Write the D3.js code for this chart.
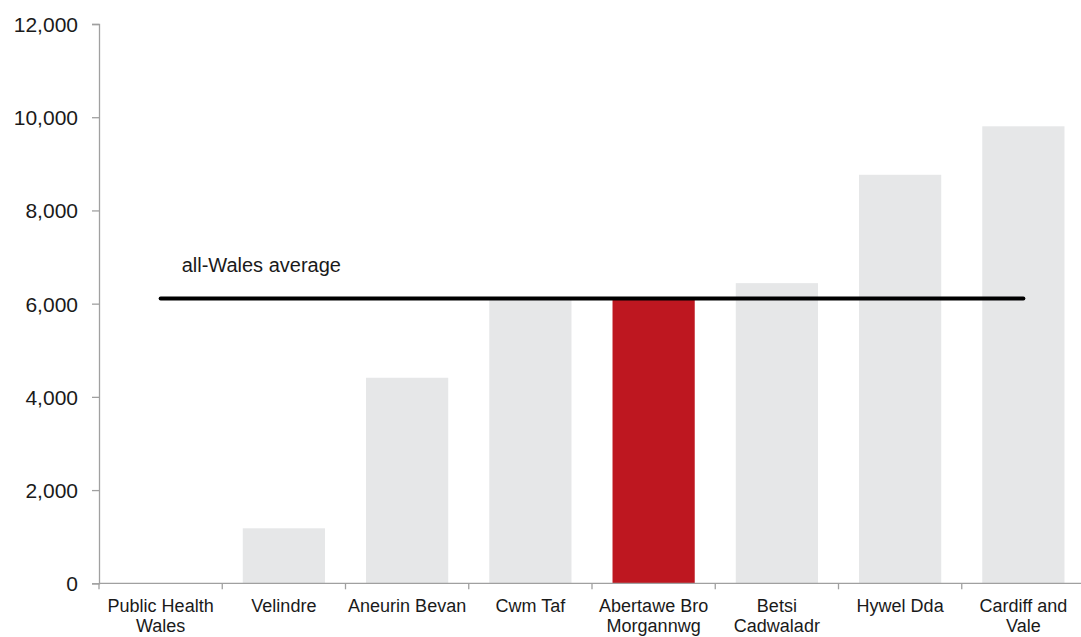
<!DOCTYPE html>
<html><head><meta charset="utf-8">
<script src="https://cdn.jsdelivr.net/npm/d3@7"></script>
<style>
body{margin:0;background:#fff;}
svg{display:block;font-family:"Liberation Sans",Arial,sans-serif;}
</style></head>
<body>
<svg id="chart" width="1081" height="637"></svg>
<script>
const categories = [["Public Health","Wales"],["Velindre"],["Aneurin Bevan"],["Cwm Taf"],["Abertawe Bro","Morgannwg"],["Betsi","Cadwaladr"],["Hywel Dda"],["Cardiff and","Vale"]];
const values = [0, 1180, 4410, 6080, 6080, 6440, 8765, 9805];
const highlight = [false,false,false,false,true,false,false,false];
const averageValue = 6110;
const averageLabel = "all-Wales average";
const yTicks = [0,2000,4000,6000,8000,10000,12000];

(function(){
const svg = d3.select("#chart");
const mLeft = 99, mRight = 1085, mTop = 24, mBottom = 583.3;
const keys = categories.map(c => c.join(" "));
const x = d3.scaleBand().domain(keys).range([mLeft, mRight]).paddingInner(0.333).paddingOuter(0.1665);
const y = d3.scaleLinear().domain([0, 12000]).range([mBottom, mTop]);

svg.selectAll("rect.bar").data(values).join("rect")
  .attr("class","bar")
  .attr("x",(d,i)=>x(keys[i]))
  .attr("width",x.bandwidth())
  .attr("y",d=>y(d))
  .attr("height",d=>y(0)-y(d))
  .attr("fill",(d,i)=>highlight[i]?"#be1720":"#e6e7e8");

// y axis
const ya = svg.append("g").attr("transform",`translate(${mLeft},0)`)
  .call(d3.axisLeft(y).tickValues(yTicks).tickSize(7).tickPadding(14).tickFormat(d3.format(",")));
ya.select(".domain").attr("stroke","#a0a0a0").attr("stroke-width",1.3);
ya.selectAll(".tick line").attr("stroke","#a0a0a0").attr("stroke-width",1.3);
ya.selectAll(".tick text").attr("font-size",21).attr("fill","#1a1a1a").attr("dy","0.36em").attr("font-family","Liberation Sans, Arial, sans-serif");

// x axis
const xg = svg.append("g").attr("transform",`translate(0,${mBottom})`);
xg.append("line").attr("x1",mLeft).attr("x2",mRight).attr("stroke","#a0a0a0").attr("stroke-width",1.3);
const step = x.step();
xg.selectAll("line.t").data(keys.map((k,i)=>i)).join("line").attr("class","t")
  .attr("x1",i=>x(keys[i]) - x.paddingInner()*step/2).attr("x2",i=>x(keys[i]) - x.paddingInner()*step/2)
  .attr("y1",0).attr("y2",6).attr("stroke","#a0a0a0").attr("stroke-width",1.3);
const lbl = xg.selectAll("text").data(categories).join("text")
  .attr("x",(d,i)=>x(keys[i])+x.bandwidth()/2)
  .attr("y",28.5)
  .attr("text-anchor","middle").attr("font-size",18).attr("fill","#1a1a1a");
lbl.each(function(d){
  const t = d3.select(this);
  d.forEach((line,j)=>t.append("tspan").attr("x",t.attr("x")).attr("dy",j===0?0:20).text(line));
});

// average line
const xc0 = x(keys[0])+x.bandwidth()/2, xc1 = x(keys[keys.length-1])+x.bandwidth()/2;
svg.append("line").attr("x1",xc0).attr("x2",xc1).attr("y1",y(averageValue)).attr("y2",y(averageValue))
  .attr("stroke","#000").attr("stroke-width",4).attr("stroke-linecap","round");
svg.append("text").attr("x",xc0+21).attr("y",y(averageValue)-26.5).attr("font-size",20).attr("fill","#1a1a1a").text(averageLabel);
})();
</script>
</body></html>
